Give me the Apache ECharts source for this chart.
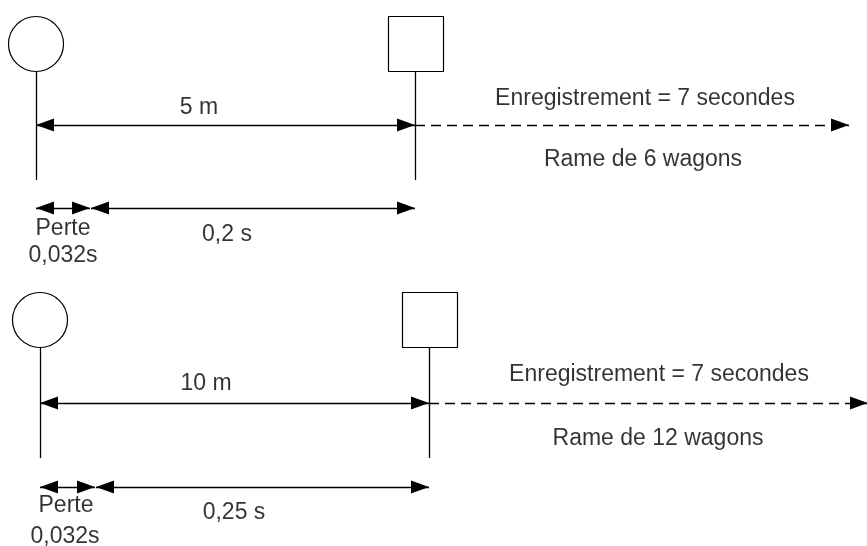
<!DOCTYPE html>
<html>
<head>
<meta charset="utf-8">
<script src="https://cdn.jsdelivr.net/npm/echarts@6/dist/echarts.min.js"></script>
<style>html,body{margin:0;padding:0;background:#fff}#c{width:867px;height:546px}</style>
</head>
<body>
<div id="c"></div>
<script>
// ---- data (two scenarios) ----
const distanceLabels = ['5 m', '10 m'];
const travelTimes = ['0,2 s', '0,25 s'];
const lossLabels = ['Perte', 'Perte'];
const lossTimes = ['0,032s', '0,032s'];
const recordLabels = ['Enregistrement = 7 secondes', 'Enregistrement = 7 secondes'];
const trainLabels = ['Rame de 6 wagons', 'Rame de 12 wagons'];

// ---- layout (diagram coordinates, 1 unit = 1 px) ----
const layout = [
  {sx: 36, ex: 415, lossEnd: 90, dashEnd: 849, markY: 44, arrowY: 125, botY: 208, vTop: 71, vBot: 180,
   distLbl: [199, 108], recLbl: [645, 99], trainLbl: [643, 160], perteLbl: [63, 229], lossLbl: [63, 256], timeLbl: [227, 235]},
  {sx: 40, ex: 429, lossEnd: 95, dashEnd: 868, markY: 320, arrowY: 403, botY: 487, vTop: 348, vBot: 458,
   distLbl: [206, 384], recLbl: [659, 375], trainLbl: [658, 439], perteLbl: [66, 506], lossLbl: [65, 537], timeLbl: [234, 513]}
];

const arrowPath = 'path://M0,18L6.5,36L-6.5,36Z M-18,0L-18,0 M18,0L18,0';

const plain = [], solidArrows = [], dashArrows = [], circles = [], squares = [], texts = [];
layout.forEach((L, i) => {
  plain.push({coords: [[L.sx, L.vTop], [L.sx, L.vBot]]});
  plain.push({coords: [[L.ex, L.vTop], [L.ex, L.vBot]]});
  solidArrows.push({coords: [[L.sx, L.arrowY], [L.ex, L.arrowY]]});
  solidArrows.push({coords: [[L.sx, L.botY], [L.lossEnd, L.botY]]});
  solidArrows.push({coords: [[L.lossEnd + 1, L.botY], [L.ex, L.botY]]});
  dashArrows.push({coords: [[L.ex, L.arrowY], [L.dashEnd, L.arrowY]]});
  circles.push([L.sx, L.markY]);
  squares.push([L.ex + 1, L.markY]);
  texts.push({value: L.distLbl, name: distanceLabels[i]});
  texts.push({value: L.recLbl, name: recordLabels[i]});
  texts.push({value: L.trainLbl, name: trainLabels[i]});
  texts.push({value: L.perteLbl, name: lossLabels[i]});
  texts.push({value: L.lossLbl, name: lossTimes[i]});
  texts.push({value: L.timeLbl, name: travelTimes[i]});
});

const chart = echarts.init(document.getElementById('c'), null, {renderer: 'canvas'});
chart.setOption({
  animation: false,
  backgroundColor: '#fff',
  grid: {left: 0, right: 0, top: 0, bottom: 0},
  xAxis: {type: 'value', min: 0, max: 867, show: false},
  yAxis: {type: 'value', min: 0, max: 546, inverse: true, show: false},
  series: [
    {type: 'lines', coordinateSystem: 'cartesian2d', data: plain, symbol: ['none', 'none'],
     lineStyle: {color: '#000', width: 1.3, opacity: 1}, silent: true},
    {type: 'lines', coordinateSystem: 'cartesian2d', data: solidArrows, symbol: [arrowPath, arrowPath], symbolSize: 36,
     lineStyle: {color: '#000', width: 1.3, opacity: 1}, itemStyle: {color: '#000'}, silent: true},
    {type: 'lines', coordinateSystem: 'cartesian2d', data: dashArrows, symbol: ['none', arrowPath], symbolSize: 36,
     lineStyle: {color: '#000', width: 1.3, opacity: 1, type: [10, 6]}, silent: true},
    {type: 'scatter', data: circles, symbol: 'circle', symbolSize: 55,
     itemStyle: {color: '#fff', borderColor: '#000', borderWidth: 1.2, opacity: 1}, silent: true},
    {type: 'scatter', data: squares, symbol: 'rect', symbolSize: 55,
     itemStyle: {color: '#fff', borderColor: '#000', borderWidth: 1.2, opacity: 1}, silent: true},
    {type: 'scatter', data: texts, symbolSize: 0, silent: true,
     label: {show: true, position: 'inside', formatter: p => p.name, color: '#000',
             fontFamily: 'Liberation Sans, Arial, sans-serif', fontSize: 23, align: 'center', verticalAlign: 'middle'}}
  ]
});
</script>
</body>
</html>
